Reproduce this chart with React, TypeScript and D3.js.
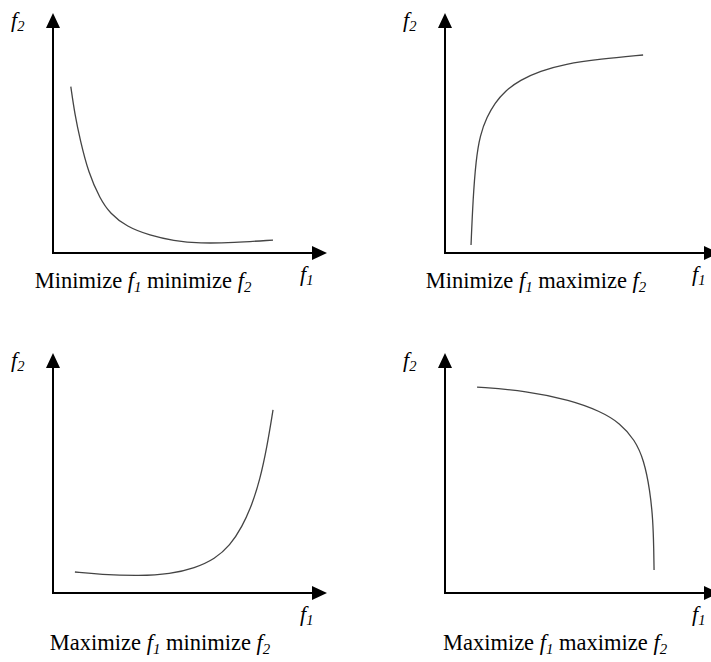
import React from "react";
import * as d3 from "d3";

// Curve data in normalized objective units (0..100 along each axis)
const curveMinMin: [number, number][] = [
  [6.5, 69.3], [6.5, 69.3], [8.0, 57.5], [9.9, 47.2], [12.9, 33.5], [17.2, 22.5], [20.8, 16.5], [26.9, 10.9], [35.4, 7.3], [43.9, 5.1], [53.6, 4.0], [65.8, 4.3], [80.3, 5.4], [80.3, 5.4],
];
const curveMinMax: [number, number][] = [
  [9.5, 3.3], [9.5, 3.3], [10.2, 22.1], [11.3, 38.8], [12.8, 49.2], [15.3, 56.7], [18.2, 62.5], [21.9, 67.5], [27.4, 72.1], [34.7, 75.8], [43.8, 78.8], [56.6, 80.8], [72.3, 82.5], [72.3, 82.5],
];
const curveMaxMin: [number, number][] = [
  [8.0, 8.75], [8.0, 8.75], [17.2, 7.7], [31.8, 7.1], [42.7, 7.9], [51.8, 10.4], [59.1, 14.2], [64.6, 19.8], [69.0, 27.5], [72.6, 36.7], [75.5, 47.1], [78.1, 60.8], [80.3, 76.3], [80.3, 76.3],
];
const curveMaxMax: [number, number][] = [
  [11.7, 85.8], [11.7, 85.8], [29.9, 84.2], [45.6, 80.4], [56.6, 75.8], [63.9, 70.8], [69.3, 63.75], [72.6, 55.4], [74.8, 42.9], [75.9, 30.4], [76.2, 17.9], [76.3, 9.6], [76.3, 9.6],
];

const captionsA = ["Minimize", "Minimize", "Maximize", "Maximize"];
const captionsB = ["minimize", "maximize", "minimize", "maximize"];

const W = 711;
const H = 662;
const AXW = 274;
const AXH = 240;
const FONT = "'Liberation Serif', 'Times New Roman', serif";

const panels = [
  { ox: 53, oy: 253, data: curveMinMin, capX: 143, capY: 288 },
  { ox: 445, oy: 253, data: curveMinMax, capX: 536, capY: 288 },
  { ox: 53, oy: 593, data: curveMaxMin, capX: 160, capY: 650 },
  { ox: 445, oy: 593, data: curveMaxMax, capX: 555, capY: 650 },
];

function FLabel({ x, y, sub, size = 22 }: { x: number; y: number; sub: string; size?: number }) {
  return (
    <text x={x} y={y} fontFamily={FONT} fontSize={size} fontStyle="italic" fill="#000">
      f
      <tspan fontSize={size * 0.66} dy={4}>{sub}</tspan>
    </text>
  );
}

function Panel({ i }: { i: number }) {
  const p = panels[i];
  const x = d3.scaleLinear().domain([0, 100]).range([p.ox, p.ox + AXW]);
  const y = d3.scaleLinear().domain([0, 100]).range([p.oy, p.oy - AXH]);
  const line = d3
    .line<[number, number]>()
    .x((d) => x(d[0]))
    .y((d) => y(d[1]))
    .curve(d3.curveBasis);
  const ah = 15;
  const aw = 7;
  const x0 = x(0), y0 = y(0), xt = x(100), yt = y(100);
  const size = 22.5;
  return (
    <g>
      <line x1={x0} y1={y0} x2={x0} y2={yt + ah} stroke="#000" strokeWidth={2} />
      <line x1={x0 - 1} y1={y0} x2={xt - ah} y2={y0} stroke="#000" strokeWidth={2} />
      <path d={`M${x0},${yt} L${x0 - aw},${yt + ah} L${x0 + aw},${yt + ah} Z`} fill="#000" />
      <path d={`M${xt},${y0} L${xt - ah},${y0 - aw} L${xt - ah},${y0 + aw} Z`} fill="#000" />
      <path d={line(p.data) || ""} fill="none" stroke="#444" strokeWidth={1.3} />
      <FLabel x={x0 - 42} y={yt + 14} sub="2" />
      <FLabel x={x0 + 247} y={y0 + 28} sub="1" />
      <text x={p.capX} y={p.capY} textAnchor="middle" fontFamily={FONT} fontSize={size} fill="#000">
        {captionsA[i]}{" "}
        <tspan fontStyle="italic">f</tspan>
        <tspan fontStyle="italic" fontSize={size * 0.66} dy={4}>1</tspan>
        <tspan dy={-4}>{" " + captionsB[i] + " "}</tspan>
        <tspan fontStyle="italic">f</tspan>
        <tspan fontStyle="italic" fontSize={size * 0.66} dy={4}>2</tspan>
      </text>
    </g>
  );
}

export default function App() {
  return (
    <svg
      width={W}
      height={H}
      viewBox={`0 0 ${W} ${H}`}
      style={{ position: "absolute", left: 0, top: 0, background: "#fff" }}
    >
      <rect x={0} y={0} width={W} height={H} fill="#fff" />
      {panels.map((_, i) => (
        <Panel key={i} i={i} />
      ))}
    </svg>
  );
}
